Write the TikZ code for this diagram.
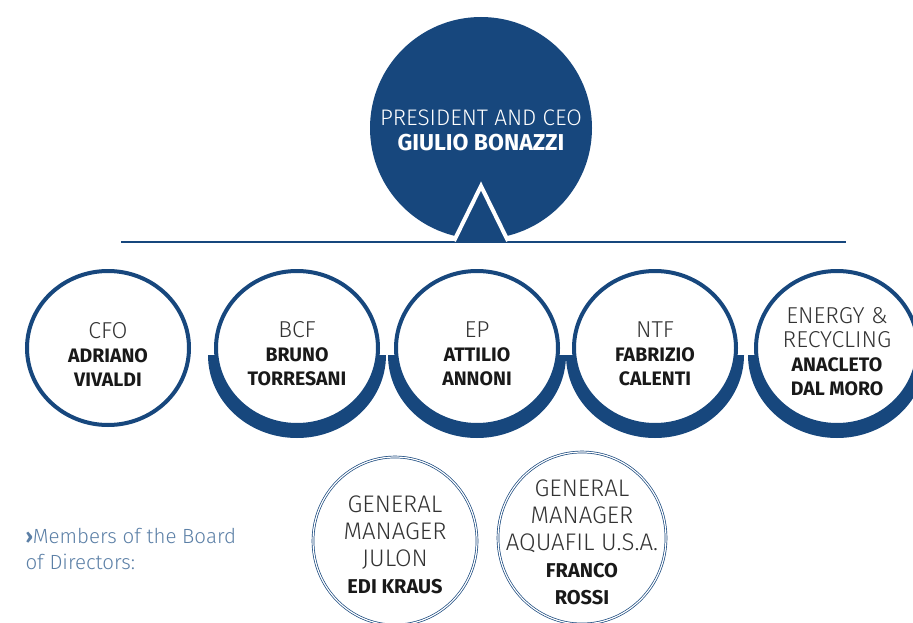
\documentclass[tikz,border=0pt]{standalone}
\usepackage{fontspec}
\usetikzlibrary{positioning, shapes.geometric}
\setmainfont{Fira Sans}
\newfontfamily\lightfont{Fira Sans Light}
\definecolor{aquablue}{HTML}{17477D}
\definecolor{rolegray}{HTML}{333333}
\definecolor{boardblue}{HTML}{5B7FA6}
\newcommand{\rolefont}{\lightfont\mdseries\fontsize{23}{24}\selectfont\color{rolegray}}
\newcommand{\bigrole}{\lightfont\mdseries\fontsize{24}{27}\selectfont\color{rolegray}}
\tikzset{
  member/.style={ellipse, draw=aquablue, line width=4pt, fill=white,
    minimum width=162pt, minimum height=154pt, inner sep=0pt},
  manager/.style={ellipse, draw=aquablue, line width=0.7pt, double=white,
    double distance=1.2pt, fill=white, minimum width=164pt, minimum height=168pt, inner sep=0pt},
  names/.style={align=center, font=\bfseries\fontsize{19.5}{24}\selectfont, text=black!90},
  bignames/.style={align=center, font=\bfseries\fontsize{20}{27}\selectfont, text=black!90},
}
\begin{document}
\begin{tikzpicture}[x=1pt, y=-1pt]
\useasboundingbox (0,0) rectangle (913,623);

% president
\node[circle, fill=aquablue, minimum size=222pt, inner sep=0pt] (pres) at (481,128) {};
\node[align=center, text=white, font=\lightfont\fontsize{22.5}{25}\selectfont] (pres-t) at (481,130)
  {PRESIDENT AND CEO\\{\normalfont\bfseries\fontsize{23}{25}\selectfont GIULIO BONAZZI}};

% bar and triangle
\coordinate (barL) at (121,242);
\coordinate (barR) at (846,242);
\draw[aquablue, line width=2.2pt] (barL) -- (barR);
\coordinate (apex) at (481,186);
\coordinate (baseL) at (454,241);
\coordinate (baseR) at (508,241);
\fill[aquablue] (baseL) -- (apex) -- (baseR) -- cycle;
\draw[white, line width=4pt, line join=miter] (baseL) -- (apex) -- (baseR);

% first row
\node[member] (cfo) at (108,348) {};
\foreach \nm/\cx in {bcf/297, ep/477, ntf/655, energy/837} {
  \fill[aquablue] (\cx-89,355) arc[start angle=180, end angle=360, x radius=89pt, y radius=83pt] -- cycle;
  \node[member] (\nm) at (\cx,348) {};
}
\node[names] (cfo-t) at ([yshift=-6pt]cfo.center) {{\rolefont CFO}\\ADRIANO\\VIVALDI};
\node[names] (bcf-t) at ([yshift=-6pt]bcf.center) {{\rolefont BCF}\\BRUNO\\TORRESANI};
\node[names] (ep-t) at ([yshift=-6pt]ep.center) {{\rolefont EP}\\ATTILIO\\ANNONI};
\node[names] (ntf-t) at ([yshift=-6pt]ntf.center) {{\rolefont NTF}\\FABRIZIO\\CALENTI};
\node[names] (energy-t) at ([yshift=-4pt]energy.center) {{\rolefont ENERGY \&}\\{\rolefont RECYCLING}\\ANACLETO\\DAL MORO};

% general managers
\node[manager] (julon) at (395,541) {};
\node[manager, minimum width=168pt, minimum height=172pt] (usa) at (582,538) {};
\node[bignames] (julon-t) at ([yshift=-4pt]julon.center)
  {{\bigrole GENERAL}\\{\bigrole MANAGER}\\{\bigrole JULON}\\EDI KRAUS};
\node[bignames] (usa-t) at ([yshift=-4pt]usa.center)
  {{\bigrole GENERAL}\\{\bigrole MANAGER}\\{\bigrole AQUAFIL U.S.A.}\\FRANCO\\ROSSI};

% board note
\node[align=left, anchor=west, text=boardblue, font=\lightfont\fontsize{20.5}{26}\selectfont] (board) at (22,549)
  {{\normalfont\bfseries ›}Members of the Board\\of Directors:};
\end{tikzpicture}
\end{document}
